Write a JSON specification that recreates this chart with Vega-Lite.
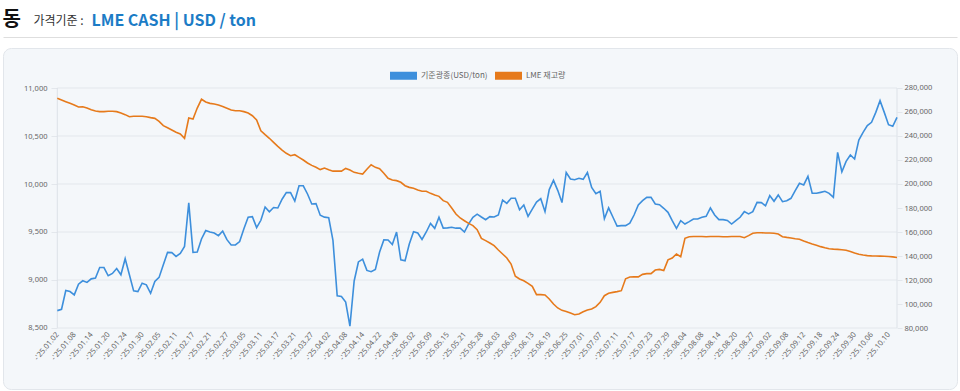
{
"$schema": "https://vega.github.io/schema/vega-lite/v6.json",
"width": 954,
"height": 341,
"autosize": {"type": "none"},
"padding": {"left": 3, "top": 48, "right": 3, "bottom": 2},
"background": "white",
"config": {
  "view": {"fill": "#f4f7fa", "stroke": "#e2e6eb", "cornerRadius": 8, "strokeWidth": 1},
  "font": "Noto Sans CJK KR",
  "axis": {"labelFont": "Noto Sans", "titleFont": "Noto Sans CJK KR"}
},
"datasets": {
  "copper": [
{"d":"'25.01.02","p":8681,"s":271400},{"d":"'25.01.03","p":8695,"s":270000},{"d":"'25.01.06","p":8890,"s":268600},{"d":"'25.01.07","p":8880,"s":267200},
{"d":"'25.01.08","p":8845,"s":265800},{"d":"'25.01.09","p":8957,"s":264200},{"d":"'25.01.10","p":8992,"s":264400},{"d":"'25.01.13","p":8975,"s":263300},
{"d":"'25.01.14","p":9012,"s":261900},{"d":"'25.01.15","p":9020,"s":260800},{"d":"'25.01.16","p":9130,"s":260300},{"d":"'25.01.17","p":9130,"s":260300},
{"d":"'25.01.20","p":9044,"s":260600},{"d":"'25.01.21","p":9068,"s":260600},{"d":"'25.01.22","p":9120,"s":260300},{"d":"'25.01.23","p":9054,"s":259200},
{"d":"'25.01.24","p":9222,"s":257800},{"d":"'25.01.27","p":9054,"s":256100},{"d":"'25.01.28","p":8887,"s":256400},{"d":"'25.01.29","p":8880,"s":256400},
{"d":"'25.01.30","p":8967,"s":256400},{"d":"'25.01.31","p":8950,"s":256100},{"d":"'25.02.03","p":8862,"s":255300},{"d":"'25.02.04","p":8985,"s":254700},
{"d":"'25.02.05","p":9027,"s":252200},{"d":"'25.02.06","p":9159,"s":248600},{"d":"'25.02.07","p":9288,"s":246900},{"d":"'25.02.10","p":9285,"s":245000},
{"d":"'25.02.11","p":9246,"s":243100},{"d":"'25.02.12","p":9277,"s":241700},{"d":"'25.02.13","p":9350,"s":238100},{"d":"'25.02.14","p":9804,"s":255000},
{"d":"'25.02.17","p":9288,"s":254200},{"d":"'25.02.18","p":9292,"s":263300},{"d":"'25.02.19","p":9427,"s":270600},{"d":"'25.02.20","p":9515,"s":268300},
{"d":"'25.02.21","p":9500,"s":267200},{"d":"'25.02.24","p":9490,"s":266700},{"d":"'25.02.25","p":9462,"s":265800},{"d":"'25.02.26","p":9510,"s":264600},
{"d":"'25.02.27","p":9420,"s":263200},{"d":"'25.02.28","p":9365,"s":261700},{"d":"'25.03.03","p":9365,"s":261100},{"d":"'25.03.04","p":9400,"s":261100},
{"d":"'25.03.05","p":9535,"s":260300},{"d":"'25.03.06","p":9653,"s":259200},{"d":"'25.03.07","p":9660,"s":256900},{"d":"'25.03.10","p":9546,"s":253300},
{"d":"'25.03.11","p":9622,"s":244400},{"d":"'25.03.12","p":9760,"s":241100},{"d":"'25.03.13","p":9710,"s":238100},{"d":"'25.03.14","p":9755,"s":234700},
{"d":"'25.03.17","p":9750,"s":231400},{"d":"'25.03.18","p":9841,"s":228300},{"d":"'25.03.19","p":9910,"s":225600},{"d":"'25.03.20","p":9910,"s":223600},
{"d":"'25.03.21","p":9823,"s":224400},{"d":"'25.03.24","p":9981,"s":222200},{"d":"'25.03.25","p":9981,"s":220000},{"d":"'25.03.26","p":9896,"s":217500},
{"d":"'25.03.27","p":9792,"s":215500},{"d":"'25.03.28","p":9796,"s":213900},{"d":"'25.03.31","p":9675,"s":212000},{"d":"'25.04.01","p":9655,"s":213300},
{"d":"'25.04.02","p":9648,"s":211900},{"d":"'25.04.03","p":9412,"s":210700},{"d":"'25.04.04","p":8835,"s":210800},{"d":"'25.04.07","p":8828,"s":210700},
{"d":"'25.04.08","p":8770,"s":213000},{"d":"'25.04.09","p":8520,"s":211600},{"d":"'25.04.10","p":8990,"s":209700},{"d":"'25.04.11","p":9188,"s":208900},
{"d":"'25.04.14","p":9217,"s":208300},{"d":"'25.04.15","p":9100,"s":212300},{"d":"'25.04.16","p":9087,"s":216000},{"d":"'25.04.17","p":9110,"s":213900},
{"d":"'25.04.22","p":9292,"s":212800},{"d":"'25.04.23","p":9418,"s":209000},{"d":"'25.04.24","p":9417,"s":204700},{"d":"'25.04.25","p":9370,"s":203300},
{"d":"'25.04.28","p":9500,"s":202800},{"d":"'25.04.29","p":9210,"s":201400},{"d":"'25.04.30","p":9201,"s":198600},{"d":"'25.05.01","p":9375,"s":197200},
{"d":"'25.05.02","p":9503,"s":196400},{"d":"'25.05.06","p":9490,"s":195000},{"d":"'25.05.07","p":9422,"s":193900},{"d":"'25.05.08","p":9500,"s":193900},
{"d":"'25.05.09","p":9590,"s":192200},{"d":"'25.05.12","p":9538,"s":190800},{"d":"'25.05.13","p":9653,"s":189700},{"d":"'25.05.14","p":9540,"s":186100},
{"d":"'25.05.15","p":9543,"s":184700},{"d":"'25.05.16","p":9549,"s":180000},{"d":"'25.05.19","p":9540,"s":175000},{"d":"'25.05.20","p":9540,"s":171700},
{"d":"'25.05.21","p":9500,"s":169400},{"d":"'25.05.22","p":9585,"s":167200},{"d":"'25.05.23","p":9653,"s":165300},{"d":"'25.05.27","p":9686,"s":161900},
{"d":"'25.05.28","p":9656,"s":154700},{"d":"'25.05.29","p":9628,"s":152800},{"d":"'25.05.30","p":9660,"s":150800},{"d":"'25.06.02","p":9656,"s":148600},
{"d":"'25.06.03","p":9677,"s":145000},{"d":"'25.06.04","p":9833,"s":141700},{"d":"'25.06.05","p":9799,"s":138300},{"d":"'25.06.06","p":9851,"s":133300},
{"d":"'25.06.09","p":9851,"s":123100},{"d":"'25.06.10","p":9732,"s":120800},{"d":"'25.06.11","p":9781,"s":119400},{"d":"'25.06.12","p":9663,"s":117200},
{"d":"'25.06.13","p":9738,"s":114700},{"d":"'25.06.16","p":9812,"s":107800},{"d":"'25.06.17","p":9847,"s":107800},{"d":"'25.06.18","p":9712,"s":107500},
{"d":"'25.06.19","p":9942,"s":104200},{"d":"'25.06.20","p":10038,"s":100000},{"d":"'25.06.23","p":9934,"s":96700},{"d":"'25.06.24","p":9807,"s":94700},
{"d":"'25.06.25","p":10120,"s":93700},{"d":"'25.06.26","p":10052,"s":92400},{"d":"'25.06.27","p":10045,"s":91100},{"d":"'25.06.30","p":10059,"s":91700},
{"d":"'25.07.01","p":10048,"s":93600},{"d":"'25.07.02","p":10120,"s":95000},{"d":"'25.07.03","p":9965,"s":95800},{"d":"'25.07.04","p":9900,"s":97800},
{"d":"'25.07.07","p":9925,"s":101400},{"d":"'25.07.08","p":9638,"s":106900},{"d":"'25.07.09","p":9751,"s":108900},{"d":"'25.07.10","p":9656,"s":109700},
{"d":"'25.07.11","p":9561,"s":110300},{"d":"'25.07.14","p":9566,"s":111100},{"d":"'25.07.15","p":9566,"s":121000},{"d":"'25.07.16","p":9592,"s":122500},
{"d":"'25.07.17","p":9677,"s":122600},{"d":"'25.07.18","p":9781,"s":122600},{"d":"'25.07.21","p":9826,"s":124700},{"d":"'25.07.22","p":9861,"s":125300},
{"d":"'25.07.23","p":9861,"s":125300},{"d":"'25.07.24","p":9792,"s":128300},{"d":"'25.07.25","p":9785,"s":128800},{"d":"'25.07.28","p":9747,"s":127800},
{"d":"'25.07.29","p":9705,"s":136800},{"d":"'25.07.30","p":9618,"s":138300},{"d":"'25.07.31","p":9538,"s":141700},{"d":"'25.08.01","p":9618,"s":139400},
{"d":"'25.08.04","p":9583,"s":154800},{"d":"'25.08.05","p":9608,"s":156000},{"d":"'25.08.06","p":9635,"s":156300},{"d":"'25.08.07","p":9635,"s":156300},
{"d":"'25.08.08","p":9653,"s":156300},{"d":"'25.08.11","p":9663,"s":156100},{"d":"'25.08.12","p":9750,"s":156300},{"d":"'25.08.13","p":9677,"s":156300},
{"d":"'25.08.14","p":9629,"s":156300},{"d":"'25.08.15","p":9629,"s":156100},{"d":"'25.08.18","p":9620,"s":156100},{"d":"'25.08.19","p":9583,"s":156300},
{"d":"'25.08.20","p":9618,"s":156300},{"d":"'25.08.21","p":9653,"s":156300},{"d":"'25.08.22","p":9712,"s":155200},{"d":"'25.08.26","p":9688,"s":157000},
{"d":"'25.08.27","p":9712,"s":159000},{"d":"'25.08.28","p":9809,"s":159400},{"d":"'25.08.29","p":9806,"s":159400},{"d":"'25.09.01","p":9774,"s":159200},
{"d":"'25.09.02","p":9879,"s":159200},{"d":"'25.09.03","p":9820,"s":158900},{"d":"'25.09.04","p":9886,"s":158300},{"d":"'25.09.05","p":9816,"s":156100},
{"d":"'25.09.08","p":9826,"s":155500},{"d":"'25.09.09","p":9851,"s":155000},{"d":"'25.09.10","p":9931,"s":154400},{"d":"'25.09.11","p":10007,"s":154000},
{"d":"'25.09.12","p":9990,"s":152500},{"d":"'25.09.15","p":10080,"s":151200},{"d":"'25.09.16","p":9903,"s":150000},{"d":"'25.09.17","p":9903,"s":149000},
{"d":"'25.09.18","p":9913,"s":147800},{"d":"'25.09.19","p":9924,"s":146800},{"d":"'25.09.22","p":9903,"s":146000},{"d":"'25.09.23","p":9861,"s":145700},
{"d":"'25.09.24","p":10330,"s":145500},{"d":"'25.09.25","p":10128,"s":145200},{"d":"'25.09.26","p":10236,"s":144800},{"d":"'25.09.29","p":10302,"s":143800},
{"d":"'25.09.30","p":10260,"s":142500},{"d":"'25.10.01","p":10458,"s":141500},{"d":"'25.10.02","p":10538,"s":140800},{"d":"'25.10.03","p":10608,"s":140300},
{"d":"'25.10.06","p":10642,"s":140100},{"d":"'25.10.07","p":10746,"s":140000},{"d":"'25.10.08","p":10868,"s":139900},{"d":"'25.10.09","p":10746,"s":139800},
{"d":"'25.10.10","p":10618,"s":139600},{"d":"'25.10.13","p":10601,"s":139300},{"d":"'25.10.14","p":10694,"s":138800}
  ]
},
"data": {"name": "copper"},
"layer": [
  {
    "layer": [
      {
        "layer": [
          {"data": {"values": [{}]}, "mark": {"type": "rule", "color": "#e3e7ec", "strokeWidth": 1},
           "encoding": {"x": {"datum": "'25.01.02", "type": "ordinal"}, "x2": {"datum": "'25.10.14"}, "y": {"datum": 8500, "type": "quantitative"}}},
          {"data": {"values": [{}]}, "mark": {"type": "rule", "color": "#e3e7ec", "strokeWidth": 1},
           "encoding": {"x": {"datum": "'25.01.02", "type": "ordinal"}, "x2": {"datum": "'25.10.14"}, "y": {"datum": 9000, "type": "quantitative"}}},
          {"data": {"values": [{}]}, "mark": {"type": "rule", "color": "#e3e7ec", "strokeWidth": 1},
           "encoding": {"x": {"datum": "'25.01.02", "type": "ordinal"}, "x2": {"datum": "'25.10.14"}, "y": {"datum": 9500, "type": "quantitative"}}},
          {"data": {"values": [{}]}, "mark": {"type": "rule", "color": "#e3e7ec", "strokeWidth": 1},
           "encoding": {"x": {"datum": "'25.01.02", "type": "ordinal"}, "x2": {"datum": "'25.10.14"}, "y": {"datum": 10000, "type": "quantitative"}}},
          {"data": {"values": [{}]}, "mark": {"type": "rule", "color": "#e3e7ec", "strokeWidth": 1},
           "encoding": {"x": {"datum": "'25.01.02", "type": "ordinal"}, "x2": {"datum": "'25.10.14"}, "y": {"datum": 10500, "type": "quantitative"}}},
          {"data": {"values": [{}]}, "mark": {"type": "rule", "color": "#e3e7ec", "strokeWidth": 1},
           "encoding": {"x": {"datum": "'25.01.02", "type": "ordinal"}, "x2": {"datum": "'25.10.14"}, "y": {"datum": 11000, "type": "quantitative"}}},
          {"data": {"values": [{}]}, "mark": {"type": "rule", "color": "#dde2e8", "strokeWidth": 1},
           "encoding": {"x": {"datum": "'25.01.02", "type": "ordinal"}, "y": {"datum": 8500, "type": "quantitative"}, "y2": {"datum": 11000}}},
          {"data": {"values": [{}]}, "mark": {"type": "rule", "color": "#dde2e8", "strokeWidth": 1},
           "encoding": {"x": {"datum": "'25.10.14", "type": "ordinal"}, "y": {"datum": 8500, "type": "quantitative"}, "y2": {"datum": 11000}}},
          {
            "mark": {"type": "line", "strokeWidth": 1.6},
            "encoding": {
              "x": {"field": "d", "type": "ordinal",
                    "scale": {"type": "point", "padding": 0, "range": [54.3, 894]},
                    "axis": {"orient": "bottom", "offset": -61, "title": null, "domain": false, "grid": false,
                             "ticks": false, "labelAngle": -50, "labelAlign": "right", "labelBaseline": "middle",
                             "labelExpr": "'-' + datum.label",
                             "labelFontSize": 7.5, "labelColor": "#666666", "labelPadding": 5, "labelOverlap": false, "labelBound": false,
                             "values": ["'25.01.02","'25.01.08","'25.01.14","'25.01.20","'25.01.24","'25.01.30","'25.02.05","'25.02.11","'25.02.17","'25.02.21","'25.02.27","'25.03.05","'25.03.11","'25.03.17","'25.03.21","'25.03.27","'25.04.02","'25.04.08","'25.04.14","'25.04.22","'25.04.28","'25.05.02","'25.05.09","'25.05.15","'25.05.21","'25.05.28","'25.06.03","'25.06.09","'25.06.13","'25.06.19","'25.06.25","'25.07.01","'25.07.07","'25.07.11","'25.07.17","'25.07.23","'25.07.29","'25.08.04","'25.08.08","'25.08.14","'25.08.20","'25.08.27","'25.09.02","'25.09.08","'25.09.12","'25.09.18","'25.09.24","'25.09.30","'25.10.06","'25.10.10"]}},
              "y": {"field": "p", "type": "quantitative",
                    "scale": {"domain": [7864.58, 11416.67], "nice": false, "zero": false},
                    "axis": {"orient": "left", "offset": -54, "values": [8500, 9000, 9500, 10000, 10500, 11000],
                             "labelExpr": "format(datum.value, ',')",
                             "domain": false, "grid": false, "ticks": true, "tickSize": 6, "tickColor": "#e3e7ec",
                             "labelFontSize": 7.5, "labelColor": "#666666", "labelPadding": 4,
                             "title": "가격기준 :", "titleAngle": 0, "titleX": -24, "titleY": -24, "titleAlign": "left", "titleBaseline": "alphabetic",
                             "titleFontSize": 12, "titleFontWeight": "normal", "titleColor": "#333333"}},
              "color": {"datum": "기준광종(USD/ton)",
                        "scale": {"domain": ["기준광종(USD/ton)", "LME 재고량"], "range": ["#3d8fdc", "#e67a1b"]},
                        "legend": {"orient": "none", "legendX": 383, "legendY": 10, "direction": "horizontal", "title": null,
                                   "symbolType": "stroke", "symbolStrokeWidth": 8, "symbolSize": 729,
                                   "labelFontSize": 8, "labelColor": "#666666", "labelFont": "Noto Sans CJK KR", "columnPadding": -9, "labelOffset": 0}}
            }
          }
        ]
      },
      {
        "layer": [
          {
            "mark": {"type": "line", "strokeWidth": 1.6},
            "encoding": {
              "x": {"field": "d", "type": "ordinal"},
              "y": {"field": "s", "type": "quantitative",
                    "scale": {"domain": [29166.7, 313333.3], "nice": false, "zero": false},
                    "axis": {"orient": "right", "offset": -60, "values": [80000, 100000, 120000, 140000, 160000, 180000, 200000, 220000, 240000, 260000, 280000],
                             "labelExpr": "format(datum.value, ',')",
                             "domain": false, "grid": false, "ticks": true, "tickSize": 5, "tickColor": "#e3e7ec",
                             "labelFontSize": 7.5, "labelColor": "#666666", "labelPadding": 2,
                             "title": "LME CASH | USD / ton", "titleAngle": 0, "titleX": -806, "titleY": -23, "titleAlign": "left", "titleBaseline": "alphabetic",
                             "titleFontSize": 16, "titleFontWeight": "bold", "titleColor": "#1c7cc6"}},
              "color": {"datum": "LME 재고량"}
            }
          }
        ]
      }
    ],
    "resolve": {"scale": {"y": "independent"}}
  },
  {
    "data": {"values": [{}]},
    "mark": {"type": "rule", "opacity": 0},
    "encoding": {
      "x": {"datum": 0, "type": "quantitative", "scale": {"domain": [0, 1], "nice": false, "zero": false},
            "axis": {"orient": "top", "offset": 11, "labels": false, "ticks": false, "grid": false, "domain": true, "domainColor": "#dedede",
                     "title": "동", "titleX": -1, "titleY": -12, "titleAngle": 0, "titleAlign": "left", "titleBaseline": "alphabetic",
                     "titleFontSize": 20, "titleFontWeight": "bold", "titleColor": "#111111"}}
    }
  }
],
"resolve": {"scale": {"x": "independent"}}
}
